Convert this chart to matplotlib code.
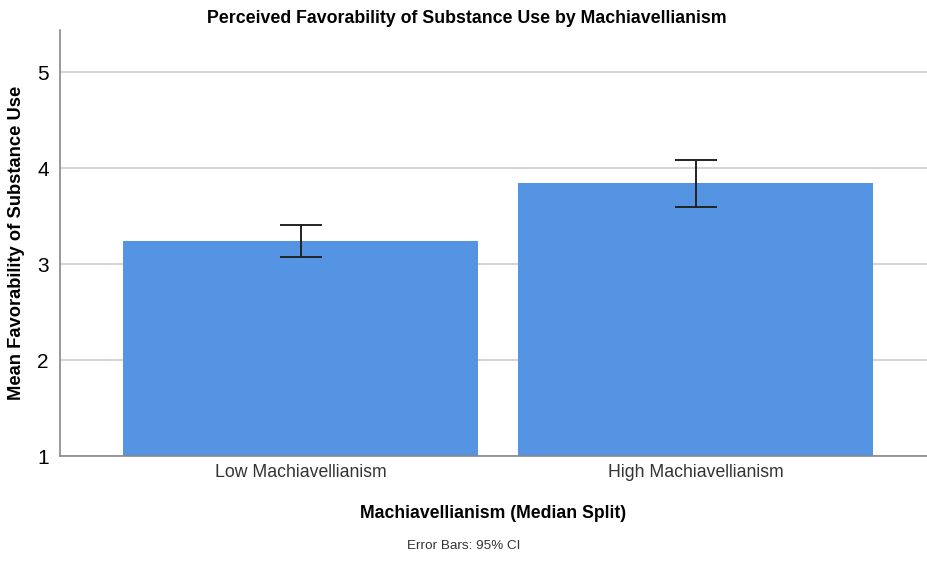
import matplotlib
matplotlib.use("Agg")
import matplotlib.pyplot as plt

categories = ["Low Machiavellianism", "High Machiavellianism"]
means = [3.245, 3.85]
ci_low = [3.07, 3.60]
ci_high = [3.41, 4.09]
y_ticks = [1, 2, 3, 4, 5]

plt.rcParams['font.family'] = ['Liberation Sans', 'DejaVu Sans']

fig = plt.figure(figsize=(9.27, 5.61), dpi=100)
ax = fig.add_axes([60/927, (561-456)/561, (927-60)/927, (456-30)/561])

x = list(range(len(categories)))
yerr = [[m - l for m, l in zip(means, ci_low)], [h - m for m, h in zip(means, ci_high)]]
ax.bar(x, [m - 1 for m in means], bottom=1, width=0.9, color="#5594e2", zorder=2)
ax.errorbar(x, means, yerr=yerr, fmt='none', ecolor='#222222', elinewidth=1.4,
            capsize=15, capthick=1.4, zorder=3)

ax.set_xlim(-0.609, 1.586)
ax.set_ylim(1, 5.44)
ax.set_yticks(y_ticks)
ax.set_yticklabels([str(t) for t in y_ticks], fontsize=15)
ax.set_xticks(x)
ax.set_xticklabels(categories, fontsize=12.7, color='#333333')
ax.yaxis.grid(True, color='#d0d0d0', linewidth=1.3, zorder=0)
ax.set_axisbelow(True)
ax.tick_params(axis='both', length=0)
ax.tick_params(axis='y', pad=8)
ax.tick_params(axis='x', pad=6)
for s in ['top', 'right']:
    ax.spines[s].set_visible(False)
for s in ['left', 'bottom']:
    ax.spines[s].set_color('#888888')
    ax.spines[s].set_linewidth(1.2)

ax.set_title("Perceived Favorability of Substance Use by Machiavellianism",
             fontsize=12.8, fontweight='bold', pad=5, x=(467 - 60) / 867)
ax.set_ylabel("Mean Favorability of Substance Use", fontsize=13.2, fontweight='bold', labelpad=9)
ax.set_xlabel("Machiavellianism (Median Split)", fontsize=12.7, fontweight='bold', labelpad=17)
fig.text(464/927, 1 - 546/561, "Error Bars: 95% CI", ha='center', va='center', fontsize=9.7, color='#333333')

fig.savefig("out.png", dpi=100)
